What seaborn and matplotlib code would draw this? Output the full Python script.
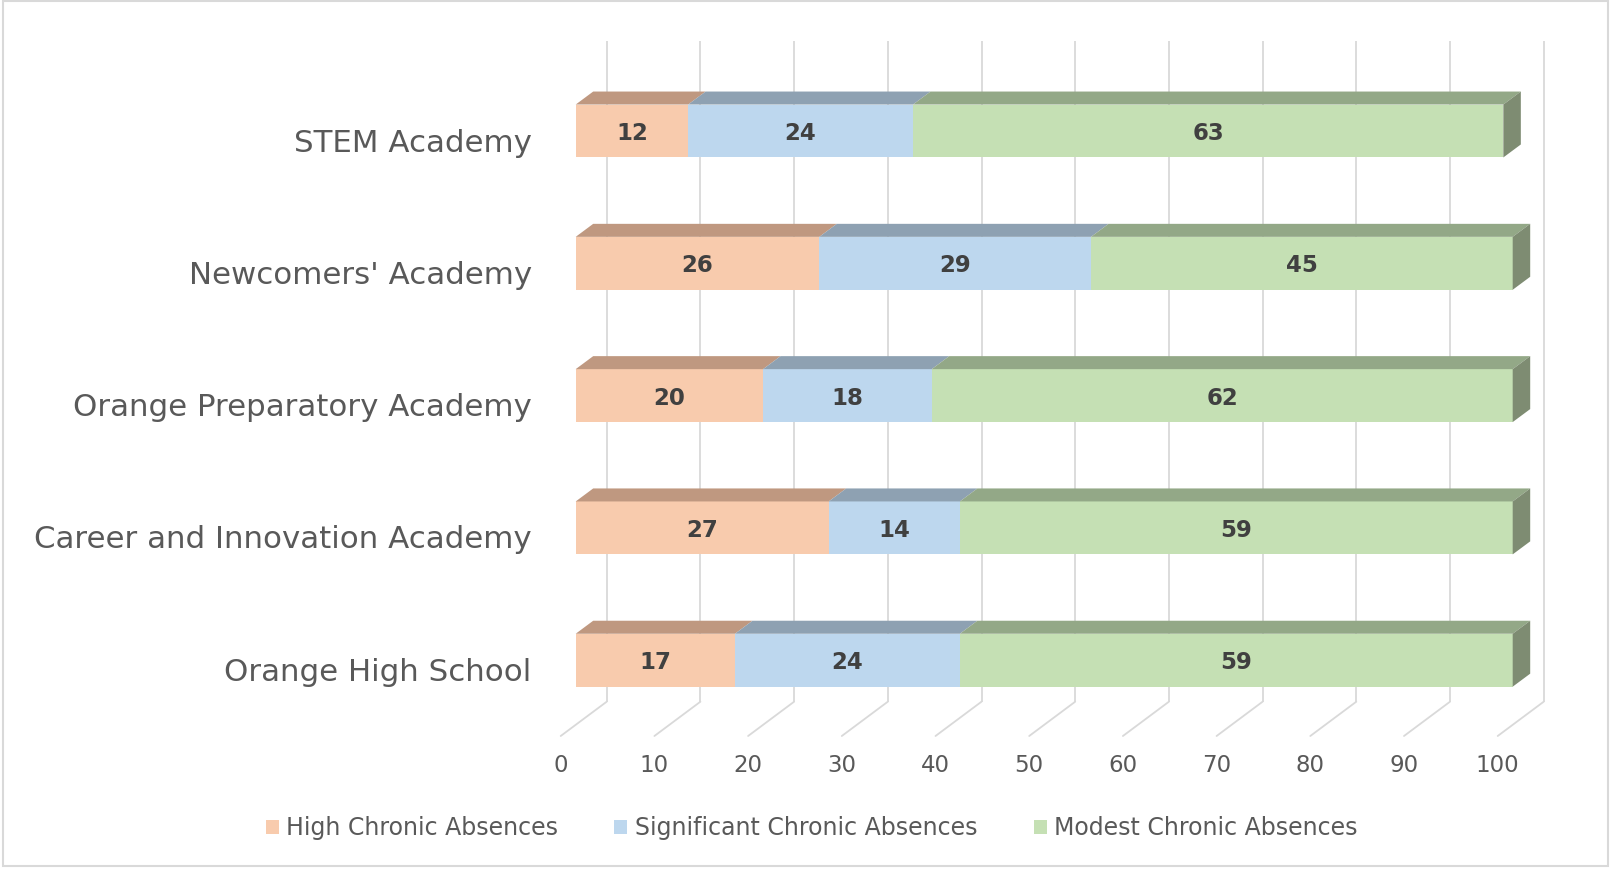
import matplotlib
matplotlib.use("Agg")
import matplotlib.pyplot as plt
import matplotlib.transforms as mtransforms
from matplotlib.patches import Polygon, Rectangle
import numpy as np
import pandas as pd
import seaborn as sns

# ---------------- data ----------------
schools = ["STEM Academy", "Newcomers' Academy", "Orange Preparatory Academy",
           "Career and Innovation Academy", "Orange High School"]
high = [12, 26, 20, 27, 17]
significant = [24, 29, 18, 14, 24]
modest = [63, 45, 62, 59, 59]
series_names = ["High Chronic Absences", "Significant Chronic Absences",
                "Modest Chronic Absences"]
x_ticks = [0, 10, 20, 30, 40, 50, 60, 70, 80, 90, 100]

# ---------------- style ----------------
front_colors = ["#F8CBAD", "#BDD7EE", "#C5E0B4"]
top_colors = ["#BF9880", "#8EA1B2", "#93A887"]
side_color = "#7E8C72"
text_gray = "#595959"
label_dark = "#404040"
grid_gray = "#D9D9D9"

sns.set_theme(style="white")
plt.rcParams['font.family'] = ['DejaVu Sans']

W, H = 1611, 869
fig = plt.figure(figsize=(W / 100, H / 100), dpi=100)
fig.patch.set_facecolor("white")
ax = fig.add_axes([0, 0, 1, 1])

# pixel geometry of the oblique projection
X0, SX = 575.7, 9.37      # x=0 front face pixel, px per unit
Y0, SY = 131.0, 132.3     # first category centre (from top), px per category
BAR_W = 0.4
DDX, DDY = 17.5 / SX, -13.0 / SY       # bar depth
WALL_DX = 31.0 / SX                    # back wall offset
FLOOR_DX = -15.0 / SX                  # floor front offset
GRID_TOP = (41.0 - Y0) / SY
WALL_BOT = (701.7 - Y0) / SY
FLOOR_FRONT = (736.0 - Y0) / SY
TICK_Y = (766.0 - Y0) / SY

series = [high, significant, modest]
cum = np.cumsum(np.array(series), axis=0)  # cumulative ends

df = pd.DataFrame({"school": schools})
for k, name in enumerate(series_names):
    df[name] = cum[k]

# stacked bars: draw cumulative totals, largest first
for k in [2, 1, 0]:
    sns.barplot(data=df, x=series_names[k], y="school", order=schools,
                color=front_colors[k], saturation=1, width=BAR_W, orient="h",
                errorbar=None, label=series_names[k], ax=ax,
                linewidth=0, zorder=3)

handles, labels = ax.get_legend_handles_labels()
if ax.get_legend() is not None:
    ax.get_legend().remove()

ax.set_xlim(-X0 / SX, (W - X0) / SX)
ax.set_ylim((H - Y0) / SY, -Y0 / SY)
ax.set_axis_off()

# gridlines on back wall + floor
for t in x_ticks:
    ax.plot([t + WALL_DX, t + WALL_DX], [GRID_TOP, WALL_BOT],
            color=grid_gray, lw=1.3, zorder=1, solid_capstyle="butt")
    ax.plot([t + WALL_DX, t + FLOOR_DX], [WALL_BOT, FLOOR_FRONT],
            color=grid_gray, lw=1.3, zorder=1)
    ax.text(t + FLOOR_DX, TICK_Y, str(t), ha="center", va="center",
            fontsize=16.5, color=text_gray)

# 3D faces and labels
for i, name in enumerate(schools):
    ytop = i - BAR_W / 2
    ybot = i + BAR_W / 2
    start = 0
    for k in range(3):
        v = series[k][i]
        x0, x1 = start, start + v
        ax.add_patch(Polygon([(x0, ytop), (x1, ytop), (x1 + DDX, ytop + DDY),
                              (x0 + DDX, ytop + DDY)], closed=True,
                             facecolor=top_colors[k], edgecolor="none", zorder=3))
        ax.text((x0 + x1) / 2, i, str(v), ha="center",
                va="center_baseline", fontsize=16.5, fontweight="bold",
                color=label_dark, zorder=5)
        start = x1
    ax.add_patch(Polygon([(start, ytop), (start + DDX, ytop + DDY),
                          (start + DDX, ybot + DDY), (start, ybot)], closed=True,
                         facecolor=side_color, edgecolor="none", zorder=3))
    tr = mtransforms.offset_copy(ax.transData, fig=fig, x=-44.0, y=-20.5,
                                 units="dots")
    ax.text(0, i, name, transform=tr, ha="right", va="baseline",
            fontsize=22.2, color=text_gray)

# legend
order = [labels.index(n) for n in series_names]
fig.legend([handles[j] for j in order], [labels[j] for j in order],
           loc="center", bbox_to_anchor=(811.5 / W, 1 - 828 / H), ncol=3,
           frameon=False, fontsize=17, handlelength=0.55, handleheight=0.55,
           handletextpad=0.3, columnspacing=2.4, labelcolor=text_gray)

# chart border
fig.patches.append(Rectangle((2.7 / W, 3 / H), (1608 - 2.7) / W, (866 - 1) / H,
                             transform=fig.transFigure, fill=False,
                             edgecolor=grid_gray, lw=1.5))

fig.savefig("out.png", dpi=100)
